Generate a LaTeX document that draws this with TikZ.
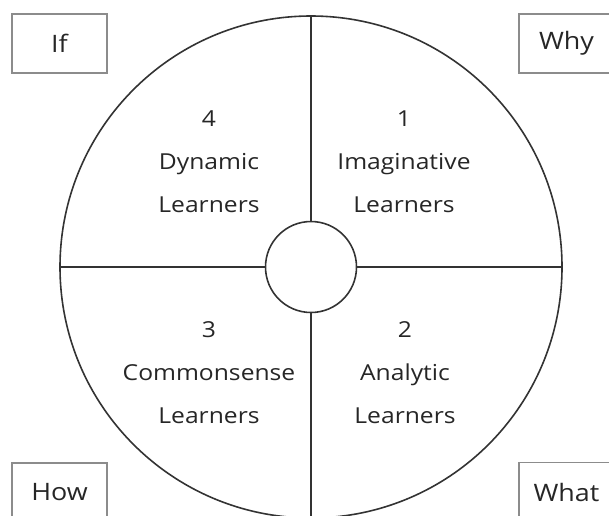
\documentclass[tikz,border=0pt]{standalone}
\usepackage{fontspec}
\setmainfont{Open Sans}[FakeStretch=1.12]
\usepackage{xcolor}
\usetikzlibrary{positioning, calc}

\begin{document}
\begin{tikzpicture}[x=1pt, y=-1pt,
    wheel/.style={circle, draw=black!80, line width=1.6pt, inner sep=0pt},
    spoke/.style={draw=black!80, line width=1.6pt},
    tag/.style={rectangle, draw=black!45, line width=1.2pt, minimum width=95pt,
      minimum height=59pt, text=black!85, font=\fontsize{24}{28}\selectfont},
    quarter/.style={align=center, text=black!85, font=\fontsize{22}{43}\selectfont}]

  \clip (0,0) rectangle (609,515);

  % Outer wheel and hub
  \node[wheel, minimum size=502pt] (wheel) at (311,267) {};
  \node[wheel, minimum size=91pt] (hub) at (311,267) {};

  % Spokes
  \draw[spoke] (hub.north) -- (wheel.north);
  \draw[spoke] (hub.south) -- (wheel.south);
  \draw[spoke] (hub.west) -- (wheel.west);
  \draw[spoke] (hub.east) -- (wheel.east);

  % Quarter labels
  \node[quarter] (dynamic) at (209,162) {4\\Dynamic\\Learners};
  \node[quarter] (imaginative) at (404,162) {1\\Imaginative\\Learners};
  \node[quarter] (commonsense) at (209,373) {3\\Commonsense\\Learners};
  \node[quarter] (analytic) at (405,373) {2\\Analytic\\Learners};

  % Corner tags
  \node[tag] (if) at (59.5,43.5) {If};
  \node[tag] (why) at (566.5,43.5) {Why};
  \node[tag] (how) at (59.5,492.5) {How};
  \node[tag] (what) at (566.5,492) {What};

\end{tikzpicture}
\end{document}
